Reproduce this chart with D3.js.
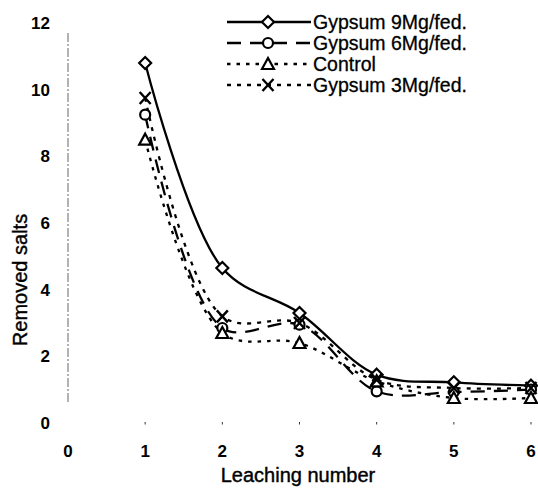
<!DOCTYPE html>
<html><head><meta charset="utf-8">
<script src="https://cdn.jsdelivr.net/npm/d3@7"></script>
<style>
html,body{margin:0;padding:0;background:#fff;}
svg text{font-family:"Liberation Sans",Arial,sans-serif;fill:#000;}
</style></head>
<body>
<svg id="c" width="538" height="488"></svg>
<script>
const leaching = [1, 2, 3, 4, 5, 6];
const gypsum9 = [10.8, 4.65, 3.3, 1.45, 1.22, 1.12];
const gypsum6 = [9.25, 2.85, 2.95, 0.95, 0.93, 1.0];
const control = [8.5, 2.7, 2.4, 1.25, 0.75, 0.75];
const gypsum3 = [9.75, 3.2, 3.0, 1.3, 1.05, 1.05];
const xTicks = [0, 1, 2, 3, 4, 5, 6];
const yTicks = [0, 2, 4, 6, 8, 10, 12];
const seriesNames = ["Gypsum 9Mg/fed.", "Gypsum 6Mg/fed.", "Control", "Gypsum 3Mg/fed."];

const svg = d3.select("#c");
const x = d3.scaleLinear().domain([0, 6]).range([68, 531]);
const y = d3.scaleLinear().domain([0, 12]).range([423, 23]);

// Y axis (faint broken line)
svg.append("line").attr("x1", x(0)).attr("x2", x(0)).attr("y1", y(11.7)).attr("y2", y(0.6))
  .attr("stroke", "#555").attr("stroke-width", 0.9).attr("stroke-dasharray", "9,2,2,2");

// y tick labels
svg.selectAll(".yt").data(yTicks).enter().append("text")
  .attr("x", 50).attr("y", d => y(d)).attr("dy", "0.35em").attr("text-anchor", "end")
  .attr("font-size", 17).attr("font-weight", "bold").text(d => d);

// x tick marks (small specks)
svg.selectAll(".xtm").data(xTicks.slice(1)).enter().append("line")
  .attr("x1", d => x(d)).attr("x2", d => x(d)).attr("y1", y(0) - 1).attr("y2", y(0) + 1.5)
  .attr("stroke", "#333").attr("stroke-width", 1);

// x tick labels
svg.selectAll(".xt").data(xTicks).enter().append("text")
  .attr("x", d => x(d)).attr("y", 451).attr("dy", "0.35em").attr("text-anchor", "middle")
  .attr("font-size", 17).attr("font-weight", "bold").text(d => d);

// axis titles
svg.append("text").attr("x", 298).attr("y", 482).attr("text-anchor", "middle")
  .attr("font-size", 20).attr("stroke", "#000").attr("stroke-width", 0.4).text("Leaching number");
svg.append("text").attr("transform", "translate(27,280) rotate(-90)").attr("text-anchor", "middle")
  .attr("font-size", 20).attr("stroke", "#000").attr("stroke-width", 0.4).text("Removed salts");

const series = [
  {name: seriesNames[0], vals: gypsum9, dash: null, marker: "diamond"},
  {name: seriesNames[1], vals: gypsum6, dash: "14,9", marker: "circle"},
  {name: seriesNames[2], vals: control, dash: "3.5,6", marker: "triangle"},
  {name: seriesNames[3], vals: gypsum3, dash: "4,6", marker: "cross"}
];

const line = d3.line().x(d => x(d[0])).y(d => y(d[1])).curve(d3.curveCatmullRom.alpha(0.5));

function drawMarker(g, type, cx, cy) {
  if (type === "diamond") {
    g.append("path").attr("d", `M${cx},${cy-6}L${cx+6},${cy}L${cx},${cy+6}L${cx-6},${cy}Z`)
      .attr("fill", "#fff").attr("stroke", "#000").attr("stroke-width", 2.2);
  } else if (type === "circle") {
    g.append("circle").attr("cx", cx).attr("cy", cy).attr("r", 5)
      .attr("fill", "#fff").attr("stroke", "#000").attr("stroke-width", 2.2);
  } else if (type === "triangle") {
    g.append("path").attr("d", `M${cx},${cy-6}L${cx+6},${cy+5}L${cx-6},${cy+5}Z`)
      .attr("fill", "#fff").attr("stroke", "#000").attr("stroke-width", 2.2);
  } else {
    g.append("path").attr("d", `M${cx-5.5},${cy-6}L${cx+5.5},${cy+6}M${cx+5.5},${cy-6}L${cx-5.5},${cy+6}`)
      .attr("fill", "none").attr("stroke", "#000").attr("stroke-width", 2.4);
  }
}

// lines
series.forEach(s => {
  const pts = leaching.map((l, i) => [l, s.vals[i]]);
  svg.append("path").attr("d", line(pts)).attr("fill", "none").attr("stroke", "#000")
    .attr("stroke-width", 2.3).attr("stroke-dasharray", s.dash);
});
// markers
series.forEach(s => {
  const g = svg.append("g");
  leaching.forEach((l, i) => drawMarker(g, s.marker, x(l), y(s.vals[i])));
});

// legend
const legY = [22, 43, 64, 85];
series.forEach((s, i) => {
  const g = svg.append("g");
  const yy = legY[i];
  g.append("line").attr("x1", 227).attr("x2", 311).attr("y1", yy).attr("y2", yy)
    .attr("stroke", "#000").attr("stroke-width", 2.3).attr("stroke-dasharray", s.dash);
  drawMarker(g, s.marker, 268, yy);
  g.append("text").attr("x", 313).attr("y", yy).attr("dy", "0.35em")
    .attr("font-size", 19.5).attr("stroke", "#000").attr("stroke-width", 0.3).text(s.name);
});
</script>
</body></html>
